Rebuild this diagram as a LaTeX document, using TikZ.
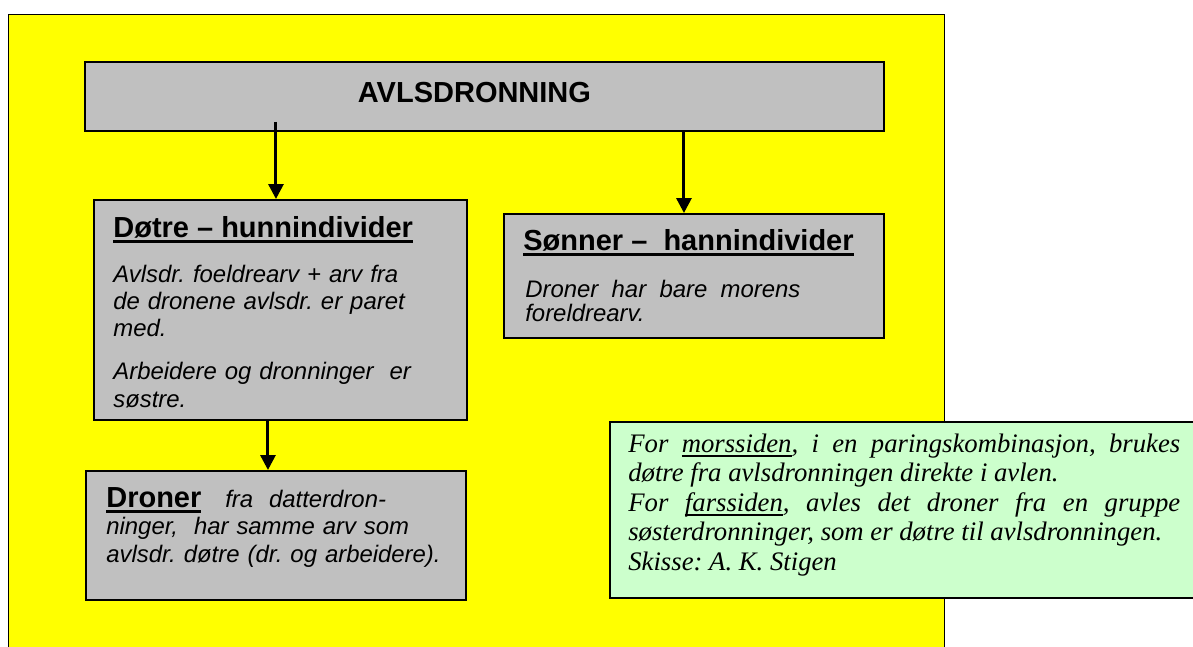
\documentclass[tikz,border=0pt]{standalone}
\usepackage{fontspec}
\setmainfont{Liberation Sans}
\newfontfamily\serifit{Liberation Serif}
\usepackage{xcolor}
\usetikzlibrary{arrows.meta,positioning,calc}

\definecolor{bgyellow}{HTML}{FFFF00}
\definecolor{boxgray}{HTML}{C0C0C0}
\definecolor{notegreen}{HTML}{CCFFCC}

\newsavebox{\ulbox}
\newcommand{\headul}[1]{\sbox{\ulbox}{#1}\rlap{\usebox{\ulbox}}\rule[-3.65pt]{\wd\ulbox}{1.7pt}}
\newcommand{\noteul}[1]{\sbox{\ulbox}{#1}\rlap{\usebox{\ulbox}}\rule[-2.6pt]{\wd\ulbox}{0.9pt}}
\frenchspacing

\begin{document}
\begin{tikzpicture}[
    box/.style={rectangle, draw, line width=1.1pt, fill=boxgray, anchor=north west, inner sep=0pt},
    head/.style={anchor=base west, inner sep=0pt, font=\fontsize{16.5}{19}\selectfont\bfseries},
    body/.style={anchor=base west, inner sep=0pt, text width=6.9cm, align=left, font=\fontsize{13.6}{15.6}\selectfont\itshape},
    arrow/.style={-{Triangle[length=8.5pt,width=8.5pt]}, line width=1.7pt}
]
    \useasboundingbox (0,0) rectangle (23.86,-12.92);

    \node[box, fill=bgyellow, line width=0.8pt, minimum width=18.72cm, minimum height=13cm] (frame) at (0.16,-0.28) {};

    \node[box, minimum width=15.98cm, minimum height=1.38cm] (queen) at (1.68,-1.22) {};
    \node[head, anchor=base] (queentxt) at ($(queen.north)+(-0.2,-0.82)$) {AVLSDRONNING};

    % daughters
    \node[box, minimum width=7.46cm, minimum height=4.4cm] (daughters) at (1.86,-3.98) {};
    \node[head] (daughtershd) at ($(daughters.north west)+(0.4,-0.76)$) {\headul{Døtre – hunnindivider}};
    \node[body] (daughterstx) at ($(daughters.north west)+(0.4,-1.66)$)
        {Avlsdr. foeldrearv + arv fra\\de dronene avlsdr. er paret\\med.\\[8.8pt]Arbeidere og dronninger~ er\\søstre.};

    % sons
    \node[box, minimum width=7.6cm, minimum height=2.48cm] (sons) at (10.06,-4.26) {};
    \node[head] (sonshd) at ($(sons.north west)+(0.4,-0.74)$) {\headul{Sønner –~ hannindivider}};
    \node[body, font=\fontsize{13.6}{14.2}\selectfont\itshape] (sonstx) at ($(sons.north west)+(0.44,-1.68)$)
        {\hbox to 5.5cm{Droner\hfill har\hfill bare\hfill morens}\\foreldrearv.};

    % drones
    \node[box, minimum width=7.6cm, minimum height=2.58cm] (drones) at (1.7,-9.4) {};
    \node[body, font=\fontsize{13.6}{15.9}\selectfont\itshape] (dronestx) at ($(drones.north west)+(0.42,-0.74)$)
        {{\fontsize{16.5}{19}\selectfont\upshape\bfseries\headul{Droner}}~~ fra~ datterdron-\\ninger,~ har samme arv som\\avlsdr. døtre (dr. og arbeidere).};

    % note
    \node[box, fill=notegreen, line width=1pt, minimum width=11.72cm, minimum height=3.52cm] (note) at (12.18,-8.42) {};
    \node[anchor=base west, inner sep=0pt, text width=11.04cm, align=justify, font=\serifit\fontsize{15.2}{16.8}\selectfont\itshape] (notetx) at ($(note.north west)+(0.38,-0.62)$)
        {For \noteul{morssiden}, i en paringskombinasjon, brukes\linebreak døtre fra avlsdronningen direkte i avlen.\newline For \noteul{farssiden}, avles det droner fra en gruppe\linebreak søsterdronninger, som er døtre til avlsdronningen.\newline Skisse: A. K. Stigen};

    \draw[arrow] ($(queen.south -| daughters.north)+(-0.09,0.2)$) -- ($(daughters.north)+(-0.09,0)$);
    \draw[arrow] ($(queen.south -| sons.north)+(-0.2,0)$) -- ($(sons.north)+(-0.2,0)$);
    \draw[arrow] ($(daughters.south -| drones.north)+(-0.16,0)$) -- ($(drones.north)+(-0.16,0)$);
\end{tikzpicture}
\end{document}
